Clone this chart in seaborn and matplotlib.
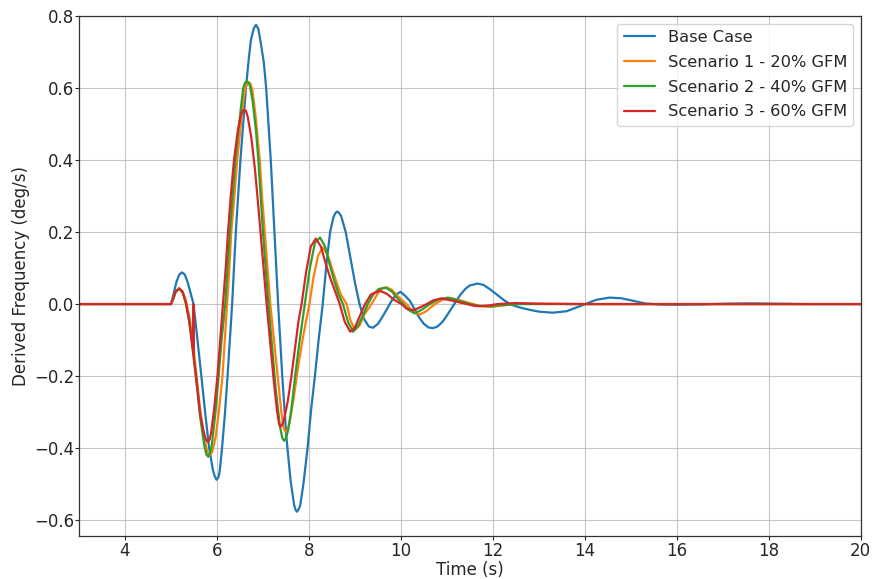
import matplotlib
matplotlib.use("Agg")
import matplotlib.pyplot as plt
import seaborn as sns
import pandas as pd

# Derived frequency traces after the disturbance at t = 5 s
base_t = [3.0, 5.0, 5.06, 5.12, 5.18, 5.24, 5.30, 5.36, 5.42, 5.49, 5.56, 5.66, 5.75,
          5.83, 5.91, 5.95, 5.99, 6.03, 6.06, 6.11, 6.17, 6.23, 6.28, 6.33, 6.41, 6.51,
          6.63, 6.69, 6.74, 6.80, 6.85, 6.90, 6.96, 7.02, 7.07, 7.17, 7.25, 7.33, 7.42,
          7.51, 7.60, 7.68, 7.71, 7.74, 7.77, 7.81, 7.88, 7.97, 8.05, 8.13, 8.21, 8.30,
          8.38, 8.46, 8.53, 8.57, 8.61, 8.65, 8.70, 8.80, 8.90, 9.00, 9.10, 9.20, 9.30,
          9.39, 9.50, 9.60, 9.70, 9.80, 9.90, 9.99, 10.10, 10.20, 10.30, 10.40, 10.50,
          10.60, 10.70, 10.80, 10.90, 11.00, 11.10, 11.20, 11.30, 11.40, 11.50, 11.67,
          11.80, 11.95, 12.10, 12.25, 12.40, 12.60, 12.80, 13.00, 13.30, 13.60, 13.85,
          14.05, 14.25, 14.54, 14.80, 15.05, 15.30, 15.60, 16.00, 16.50, 17.00, 17.60,
          18.20, 18.80, 20.0]
base_v = [0.0, 0.0, 0.030, 0.062, 0.082, 0.088, 0.082, 0.062, 0.034, 0.0, -0.08, -0.20,
          -0.31, -0.40, -0.46, -0.478, -0.488, -0.482, -0.465, -0.40, -0.31, -0.20, -0.10,
          0.0, 0.20, 0.40, 0.60, 0.68, 0.735, 0.766, 0.776, 0.765, 0.72, 0.67, 0.60, 0.40,
          0.20, 0.0, -0.20, -0.37, -0.49, -0.56, -0.572, -0.577, -0.572, -0.56, -0.50,
          -0.40, -0.29, -0.20, -0.10, 0.0, 0.11, 0.20, 0.24, 0.252, 0.257, 0.254, 0.245,
          0.20, 0.13, 0.06, 0.0, -0.042, -0.062, -0.066, -0.055, -0.035, -0.013, 0.010,
          0.027, 0.034, 0.022, 0.008, -0.015, -0.038, -0.055, -0.065, -0.067, -0.062,
          -0.050, -0.032, -0.012, 0.008, 0.027, 0.042, 0.052, 0.057, 0.053, 0.040, 0.025,
          0.010, -0.002, -0.010, -0.016, -0.021, -0.024, -0.020, -0.008, 0.002, 0.012,
          0.018, 0.016, 0.009, 0.002, -0.001, -0.002, -0.001, 0.001, 0.002, 0.001, 0.0,
          0.0]

s1_t = [3.0, 5.0, 5.05, 5.10, 5.18, 5.25, 5.32, 5.40, 5.47, 5.55, 5.63, 5.72, 5.79,
        5.82, 5.85, 5.88, 5.91, 5.97, 6.04, 6.12, 6.17, 6.22, 6.27, 6.31, 6.38, 6.44,
        6.52, 6.59, 6.63, 6.67, 6.70, 6.73, 6.77, 6.81, 6.85, 6.93, 6.98, 7.04, 7.10,
        7.16, 7.24, 7.32, 7.40, 7.45, 7.49, 7.53, 7.58, 7.67, 7.77, 7.86, 7.94, 8.01,
        8.10, 8.20, 8.30, 8.40, 8.50, 8.60, 8.70, 8.82, 8.90, 9.00, 9.10, 9.20, 9.36,
        9.50, 9.60, 9.70, 9.80, 9.95, 10.12, 10.25, 10.41, 10.55, 10.74, 10.90, 11.10,
        11.30, 11.57, 11.75, 11.97, 12.20, 12.50, 13.00, 14.00, 20.0]
s1_v = [0.0, 0.0, 0.015, 0.033, 0.043, 0.036, 0.012, -0.035, -0.10, -0.19, -0.29, -0.37,
        -0.41, -0.418, -0.42, -0.415, -0.405, -0.37, -0.30, -0.20, -0.10, 0.0, 0.10, 0.20,
        0.30, 0.40, 0.50, 0.58, 0.605, 0.615, 0.616, 0.612, 0.595, 0.555, 0.51, 0.40,
        0.30, 0.20, 0.10, 0.0, -0.10, -0.20, -0.30, -0.345, -0.355, -0.35, -0.33, -0.26,
        -0.17, -0.10, -0.045, 0.0, 0.075, 0.135, 0.157, 0.14, 0.10, 0.06, 0.025, 0.0,
        -0.045, -0.072, -0.06, -0.03, 0.0, 0.03, 0.043, 0.046, 0.040, 0.020, 0.0, -0.020,
        -0.029, -0.020, 0.0, 0.012, 0.016, 0.010, 0.0, -0.006, -0.008, -0.004, 0.0,
        0.001, 0.0, 0.0]

s2_t = [3.0, 5.0, 5.05, 5.10, 5.18, 5.26, 5.33, 5.40, 5.47, 5.55, 5.63, 5.72, 5.77,
        5.81, 5.85, 5.89, 5.96, 6.03, 6.10, 6.18, 6.23, 6.28, 6.34, 6.40, 6.48, 6.57,
        6.61, 6.65, 6.69, 6.72, 6.78, 6.85, 6.90, 6.95, 7.00, 7.06, 7.12, 7.20, 7.28,
        7.37, 7.42, 7.46, 7.50, 7.55, 7.63, 7.70, 7.80, 7.91, 8.02, 8.13, 8.24, 8.35,
        8.45, 8.55, 8.65, 8.74, 8.85, 8.96, 9.07, 9.18, 9.28, 9.40, 9.52, 9.67, 9.80,
        9.93, 10.05, 10.15, 10.30, 10.45, 10.63, 10.80, 11.03, 11.25, 11.50, 11.70,
        11.93, 12.20, 12.50, 20.0]
s2_v = [0.0, 0.0, 0.015, 0.033, 0.043, 0.030, 0.0, -0.05, -0.12, -0.21, -0.31, -0.39,
        -0.418, -0.424, -0.415, -0.39, -0.31, -0.21, -0.10, 0.0, 0.10, 0.20, 0.30, 0.40,
        0.50, 0.60, 0.615, 0.62, 0.615, 0.605, 0.56, 0.48, 0.40, 0.30, 0.20, 0.10, 0.0,
        -0.12, -0.24, -0.34, -0.372, -0.38, -0.373, -0.35, -0.28, -0.20, -0.10, 0.0,
        0.10, 0.17, 0.185, 0.16, 0.11, 0.065, 0.025, 0.0, -0.05, -0.077, -0.06, -0.03,
        0.0, 0.027, 0.042, 0.046, 0.035, 0.015, 0.0, -0.015, -0.026, -0.016, 0.0, 0.012,
        0.018, 0.010, 0.0, -0.005, -0.006, -0.003, 0.0, 0.0]

s3_t = [3.0, 5.0, 5.05, 5.10, 5.18, 5.25, 5.32, 5.40, 5.485, 5.49, 5.495, 5.56, 5.64,
        5.72, 5.76, 5.80, 5.84, 5.87, 5.94, 6.01, 6.07, 6.13, 6.19, 6.24, 6.30, 6.37,
        6.45, 6.53, 6.57, 6.60, 6.63, 6.67, 6.75, 6.83, 6.90, 6.96, 7.02, 7.08, 7.16,
        7.24, 7.31, 7.35, 7.38, 7.42, 7.46, 7.54, 7.62, 7.70, 7.77, 7.84, 7.94, 8.04,
        8.15, 8.26, 8.37, 8.47, 8.57, 8.67, 8.78, 8.90, 9.00, 9.10, 9.22, 9.35, 9.54,
        9.70, 9.85, 10.01, 10.12, 10.27, 10.40, 10.56, 10.70, 10.88, 11.10, 11.43, 11.60,
        11.72, 11.90, 12.10, 12.50, 13.00, 14.00, 20.0]
s3_v = [0.0, 0.0, 0.015, 0.035, 0.044, 0.034, 0.005, -0.05, -0.14, 0.0, -0.15, -0.22,
        -0.31, -0.36, -0.377, -0.383, -0.377, -0.36, -0.29, -0.20, -0.10, 0.0, 0.10,
        0.20, 0.30, 0.40, 0.48, 0.53, 0.538, 0.54, 0.537, 0.52, 0.46, 0.37, 0.27, 0.18,
        0.09, 0.0, -0.11, -0.22, -0.30, -0.333, -0.341, -0.335, -0.32, -0.27, -0.20,
        -0.12, -0.05, 0.0, 0.09, 0.16, 0.182, 0.16, 0.11, 0.07, 0.035, 0.0, -0.05,
        -0.077, -0.065, -0.035, 0.0, 0.027, 0.037, 0.028, 0.012, 0.0, -0.012, -0.017,
        -0.010, 0.0, 0.010, 0.016, 0.010, 0.0, -0.005, -0.006, -0.004, 0.0, 0.003, 0.001,
        0.0, 0.0]

labels = ["Base Case", "Scenario 1 - 20% GFM", "Scenario 2 - 40% GFM",
          "Scenario 3 - 60% GFM"]
series_t = [base_t, s1_t, s2_t, s3_t]
series_v = [base_v, s1_v, s2_v, s3_v]

frames = []
for name, t, v in zip(labels, series_t, series_v):
    frames.append(pd.DataFrame({"Time (s)": t, "Derived Frequency (deg/s)": v,
                                "Case": name}))
df = pd.concat(frames, ignore_index=True)

sns.set_style("ticks")
plt.rcParams["font.family"] = ["DejaVu Sans"]

fig, ax = plt.subplots(figsize=(8.73, 5.79), dpi=100)
sns.lineplot(data=df, x="Time (s)", y="Derived Frequency (deg/s)", hue="Case",
             hue_order=labels, palette=sns.color_palette("tab10", 4),
             estimator=None, sort=False, linewidth=1.6, ax=ax)

ax.set_xlim(3, 20)
ax.set_ylim(-0.645, 0.8)
ax.set_xticks([4, 6, 8, 10, 12, 14, 16, 18, 20])
ax.set_yticks([-0.6, -0.4, -0.2, 0.0, 0.2, 0.4, 0.6, 0.8])
ax.grid(True, color="#b0b0b0", linewidth=0.8, alpha=0.7)
ax.tick_params(labelsize=12, length=3, width=0.8)
ax.tick_params(axis="x", pad=1.5)
ax.tick_params(axis="y", pad=0.5)
ax.set_xlabel("Time (s)", fontsize=12, labelpad=0.5)
ax.set_ylabel("Derived Frequency (deg/s)", fontsize=12, labelpad=2.5)
for sp in ax.spines.values():
    sp.set_color("#333333")
    sp.set_linewidth(0.9)
ax.legend(title=None, loc="upper right", fontsize=11.7, labelspacing=0.6,
          handlelength=1.9, borderaxespad=0.45)

fig.subplots_adjust(left=0.0905, right=0.986, top=0.972, bottom=0.074)
fig.savefig("out.png", dpi=100)
